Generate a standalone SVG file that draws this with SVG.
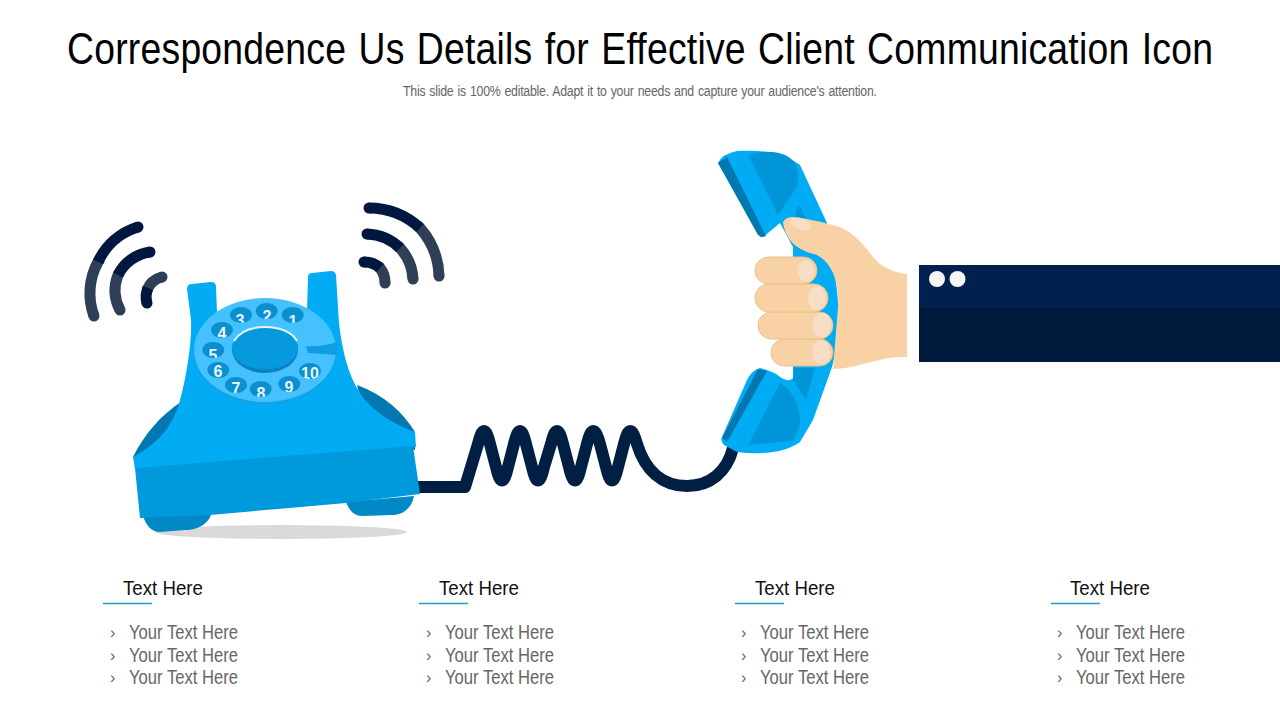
<svg xmlns="http://www.w3.org/2000/svg" width="1280" height="720" viewBox="0 0 1280 720">
<defs>
<style>
text{font-family:"Liberation Sans",Arial,sans-serif}
.title{font-size:45px;fill:#000;word-spacing:2px}
.sub{font-size:14.5px;fill:#666;word-spacing:1px}
.h{font-size:21px;fill:#111}
.i{font-size:20px;fill:#666}
.b{font-size:16px;fill:#666}
.rule{stroke:#1C9FC8;stroke-width:1.3;fill:none}
.w{fill:none;stroke-width:11}
.n{stroke:#00183F}
.g{stroke:#2F3F58}
.nf{fill:#00183F}
.gf{fill:#2F3F58}
.hole{fill:#0A8FCF}
.d{font-size:16px;font-weight:bold;fill:#EAF7FF;text-anchor:middle}
.f{fill:#F8D2A4;stroke:#EFBF8C;stroke-width:1}
.nail{fill:#F6DFC6}
.hs{fill:#02ACF4}
.hd{fill:#0095D9}
.he{fill:#0378B0}
</style>
<clipPath id="c1"><ellipse cx="292.700" cy="315" rx="11" ry="8"/></clipPath>
<clipPath id="c2"><ellipse cx="266.700" cy="311" rx="11" ry="8"/></clipPath>
<clipPath id="c3"><ellipse cx="241" cy="315" rx="11" ry="8"/></clipPath>
<clipPath id="c4"><ellipse cx="222" cy="330" rx="11" ry="8"/></clipPath>
<clipPath id="c5"><ellipse cx="213.300" cy="350" rx="11" ry="8"/></clipPath>
<clipPath id="c6"><ellipse cx="218.300" cy="370" rx="11" ry="8"/></clipPath>
<clipPath id="c7"><ellipse cx="236" cy="385" rx="11" ry="8"/></clipPath>
<clipPath id="c8"><ellipse cx="260.700" cy="389" rx="11" ry="8"/></clipPath>
<clipPath id="c9"><ellipse cx="289.300" cy="384" rx="11" ry="8"/></clipPath>
<clipPath id="c10"><ellipse cx="310" cy="371" rx="11" ry="8"/></clipPath>
</defs>
<rect width="1280" height="720" fill="#fff"/>
<g id="header">
<text class="title" transform="translate(67 64) scale(0.83 1)" x="0" y="0" textLength="1380.700" lengthAdjust="spacing">Correspondence Us Details for Effective Client Communication Icon</text>
<text class="sub" transform="translate(403 96) scale(0.85 1)" x="0" y="0" textLength="557.600" lengthAdjust="spacing">This slide is 100% editable. Adapt it to your needs and capture your audience's attention.</text>
</g>
<g id="connectors">
<path id="cord" d="M415,487H465L478,444Q484,418 490,444L496,467Q502,494 508,467L514,444Q520,418 526,444L532,467Q538,494 544,467L551,444Q557,418 563,444L569,467Q575,494 581,467L587,444Q593,418 600,444L606,467Q612,494 618,467L624,444Q630,418 637,444C645,470 662,486 687,486C710,486 727,472 733,448" fill="none" stroke="#001F43" stroke-width="12" stroke-linejoin="round"/>
</g>
<g id="rings-left">
<path class="w g" d="M100,259L98,262A65,65 0 0 0 94,316"/><path class="w n" d="M138,227A65,65 0 0 0 98,262"/>
<circle class="nf" cx="138" cy="227" r="5.500"/><circle class="gf" cx="94" cy="316" r="5.500"/>
<path class="w g" d="M120,272L118,275A42,42 0 0 0 120,310"/><path class="w n" d="M150,252A42,42 0 0 0 118,275"/>
<circle class="nf" cx="150" cy="252" r="5.500"/><circle class="gf" cx="120" cy="310" r="5.500"/>
<path class="w g" d="M162,277A22,22 0 0 0 147,290"/><path class="w n" d="M148,288A22,22 0 0 0 147,303"/>
<circle class="gf" cx="162" cy="277" r="5.500"/><circle class="nf" cx="147" cy="303" r="5.500"/>
</g>
<g id="rings-right">
<path class="w g" d="M417,225L420,228A76,76 0 0 1 439,276"/><path class="w n" d="M369,208A76,76 0 0 1 420,228"/>
<circle class="nf" cx="369" cy="208" r="5.500"/><circle class="gf" cx="439" cy="276" r="5.500"/>
<path class="w g" d="M398,246L400,248A50,50 0 0 1 413,279"/><path class="w n" d="M367,234A50,50 0 0 1 400,248"/>
<circle class="nf" cx="367" cy="234" r="5.500"/><circle class="gf" cx="413" cy="279" r="5.500"/>
<path class="w g" d="M378,266L380,268A23,23 0 0 1 385,283"/><path class="w n" d="M364,262A23,23 0 0 1 380,268"/>
<circle class="nf" cx="364" cy="262" r="5.500"/><circle class="gf" cx="385" cy="283" r="5.500"/>
</g>
<g id="telephone">
<ellipse cx="281" cy="532" rx="126" ry="7" fill="#D9D9D9"/>
<path fill="#0288C7" d="M143,516L212,510C211,522 200,530 185,530L160,532C151,532 146,525 143,516Z"/>
<path fill="#0288C7" d="M346,502L414,496C412,508 403,515 392,515L362,516C354,516 349,510 346,502Z"/>
<path fill="#0378B0" d="M184,400C160,415 144,435 133,457L160,462L185,420Z"/>
<path fill="#0378B0" d="M357,385C384,395 403,412 415,432L415,450L370,440Z"/>
<path fill="#02ACF4" d="M187,289Q187,284 192,284L211,282Q216,282 216,287L217,312H307L308,277Q308,273 312,273L331,271Q335,271 336,275L339,323C342,350 348,375 360,393C370,410 395,425 415,432L416,447L135,469L133,457C150,448 172,432 180,400C187,375 192,340 191,320Z"/>
<path fill="#0099DB" d="M135,468L413,446L420,494L346,503L210,515L140,518Z"/>
<ellipse cx="265" cy="352" rx="71" ry="53" fill="#12A2E6"/>
<ellipse cx="265" cy="350" rx="71" ry="52" fill="#46C1FF"/>
<path fill="#0F9DE2" d="M306,346C318,347 328,345 337,342L337,355L308,353Z"/>
<g id="dial-holes">
<ellipse class="hole" cx="292.700" cy="315" rx="11" ry="8"/>
<ellipse class="hole" cx="266.700" cy="311" rx="11" ry="8"/>
<ellipse class="hole" cx="241" cy="315" rx="11" ry="8"/>
<ellipse class="hole" cx="222" cy="330" rx="11" ry="8"/>
<ellipse class="hole" cx="213.300" cy="350" rx="11" ry="8"/>
<ellipse class="hole" cx="218.300" cy="370" rx="11" ry="8"/>
<ellipse class="hole" cx="236" cy="385" rx="11" ry="8"/>
<ellipse class="hole" cx="260.700" cy="389" rx="11" ry="8"/>
<ellipse class="hole" cx="289.300" cy="384" rx="11" ry="8"/>
<ellipse class="hole" cx="310" cy="371" rx="11" ry="8"/>
<text class="d" x="293" y="327" clip-path="url(#c1)">1</text>
<text class="d" x="267" y="322" clip-path="url(#c2)">2</text>
<text class="d" x="240" y="326" clip-path="url(#c3)">3</text>
<text class="d" x="222" y="339" clip-path="url(#c4)">4</text>
<text class="d" x="213" y="361" clip-path="url(#c5)">5</text>
<text class="d" x="218" y="377" clip-path="url(#c6)">6</text>
<text class="d" x="236" y="394" clip-path="url(#c7)">7</text>
<text class="d" x="261" y="399" clip-path="url(#c8)">8</text>
<text class="d" x="289" y="393" clip-path="url(#c9)">9</text>
<text class="d" x="310" y="379" clip-path="url(#c10)">10</text>
</g>
<ellipse cx="265" cy="350" rx="33" ry="23" fill="#0B80BE"/>
<ellipse cx="265" cy="348" rx="33" ry="21.500" fill="#0799DE"/>
<path d="M234,341C240,331 252,327 265,327C280,327 292,332 297,341" fill="none" stroke="#E8F8FF" stroke-width="2"/>
</g>
<g id="handset">
<path class="hs" d="M718,163Q722,154 737,151C755,150 780,150 800,165L827,223L837,290C840,320 838,345 832,367L813,420L800,442C785,453 760,455 737,452L724,445Q720,441 722,437L747,380Q752,370 760,368Q775,372 780,377Q788,383 793,378V247L780,223L768,233Q764,238 760,237Z"/>
<path class="he" d="M718,163L758,235Q762,238 766,236L727,157Z"/>
<path class="he" d="M758,369L722,438L727,442L767,371Z"/>
<path class="hd" d="M748,155C762,151 780,150 790,158C798,165 800,175 797,187L778,215Z"/>
<path class="hd" d="M780,383C792,390 801,405 800,425L793,441L748,445Z"/>
<path class="hd" d="M797,207L800,205L807,222L795,220Z"/>
<path class="hd" d="M794,368H815L806,400L793,380Z"/>
</g>
<g id="hand">
<path fill="#F8D2A4" d="M783,222Q786,217 793,217C810,219 825,223 833,225C850,229 860,240 873,257C880,267 895,273 907,274V357C895,357 885,358 880,360C865,363 848,369 833,369L838,307C839,290 836,280 833,273C828,262 822,258 817,255C805,252 795,247 790,240Q784,232 783,222Z"/>
<ellipse class="nail" cx="801" cy="224" rx="11" ry="5.500" transform="rotate(20 801 224)"/>
<rect class="f" x="771" y="339" width="62" height="27" rx="13.500"/>
<rect class="f" x="758" y="312" width="75" height="27" rx="13.500"/>
<rect class="f" x="755" y="284" width="73" height="28" rx="14"/>
<rect class="f" x="755" y="257" width="62" height="27" rx="13.500"/>
<ellipse class="nail" cx="806" cy="271" rx="8" ry="10.500"/>
<ellipse class="nail" cx="817" cy="298" rx="9" ry="12"/>
<ellipse class="nail" cx="822" cy="325" rx="9.500" ry="12"/>
<ellipse class="nail" cx="821" cy="352" rx="9" ry="12"/>
</g>
<g id="sleeve">
<rect x="919" y="265" width="361" height="43" fill="#00204F"/>
<rect x="919" y="308" width="361" height="54" fill="#001A3E"/>
<circle cx="937" cy="279" r="8" fill="#F5F5F5"/>
<circle cx="957.500" cy="279" r="8" fill="#F5F5F5"/>
</g>
<g id="col1">
<text class="h" x="123" y="595" textLength="80" lengthAdjust="spacingAndGlyphs">Text Here</text>
<path class="rule" d="M103,603.500H152"/>
<text class="b" x="110" y="638">›</text><text class="i" x="129" y="639" textLength="109" lengthAdjust="spacingAndGlyphs">Your Text Here</text>
<text class="b" x="110" y="661">›</text><text class="i" x="129" y="662" textLength="109" lengthAdjust="spacingAndGlyphs">Your Text Here</text>
<text class="b" x="110" y="683">›</text><text class="i" x="129" y="684" textLength="109" lengthAdjust="spacingAndGlyphs">Your Text Here</text>
</g>
<g id="col2">
<text class="h" x="439" y="595" textLength="80" lengthAdjust="spacingAndGlyphs">Text Here</text>
<path class="rule" d="M419,603.500H468"/>
<text class="b" x="426" y="638">›</text><text class="i" x="445" y="639" textLength="109" lengthAdjust="spacingAndGlyphs">Your Text Here</text>
<text class="b" x="426" y="661">›</text><text class="i" x="445" y="662" textLength="109" lengthAdjust="spacingAndGlyphs">Your Text Here</text>
<text class="b" x="426" y="683">›</text><text class="i" x="445" y="684" textLength="109" lengthAdjust="spacingAndGlyphs">Your Text Here</text>
</g>
<g id="col3">
<text class="h" x="755" y="595" textLength="80" lengthAdjust="spacingAndGlyphs">Text Here</text>
<path class="rule" d="M735,603.500H784"/>
<text class="b" x="741" y="638">›</text><text class="i" x="760" y="639" textLength="109" lengthAdjust="spacingAndGlyphs">Your Text Here</text>
<text class="b" x="741" y="661">›</text><text class="i" x="760" y="662" textLength="109" lengthAdjust="spacingAndGlyphs">Your Text Here</text>
<text class="b" x="741" y="683">›</text><text class="i" x="760" y="684" textLength="109" lengthAdjust="spacingAndGlyphs">Your Text Here</text>
</g>
<g id="col4">
<text class="h" x="1070" y="595" textLength="80" lengthAdjust="spacingAndGlyphs">Text Here</text>
<path class="rule" d="M1051,603.500H1100"/>
<text class="b" x="1057" y="638">›</text><text class="i" x="1076" y="639" textLength="109" lengthAdjust="spacingAndGlyphs">Your Text Here</text>
<text class="b" x="1057" y="661">›</text><text class="i" x="1076" y="662" textLength="109" lengthAdjust="spacingAndGlyphs">Your Text Here</text>
<text class="b" x="1057" y="683">›</text><text class="i" x="1076" y="684" textLength="109" lengthAdjust="spacingAndGlyphs">Your Text Here</text>
</g>
</svg>
